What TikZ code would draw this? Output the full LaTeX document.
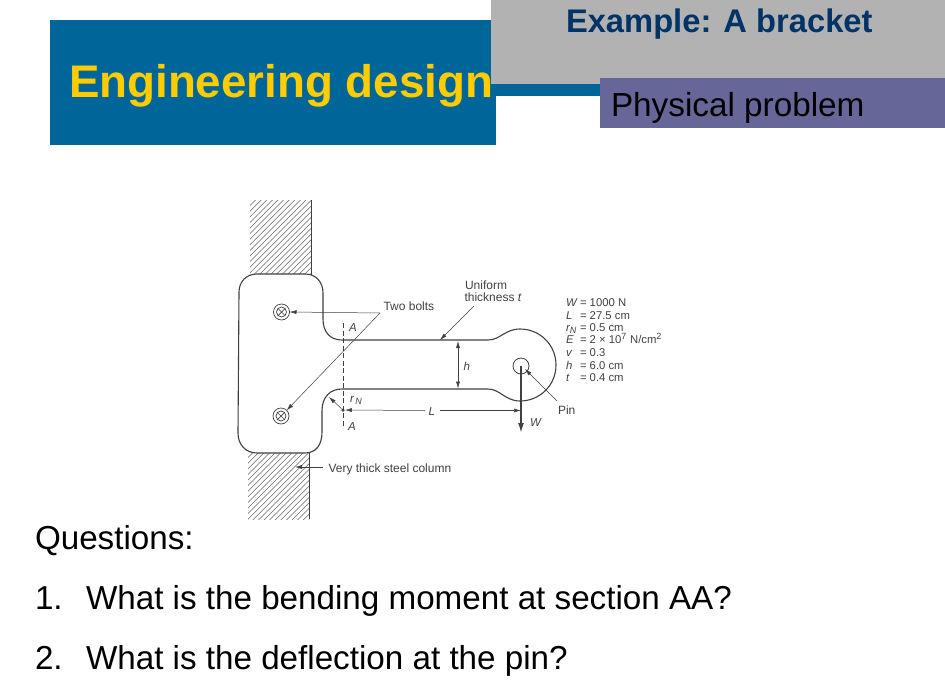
\documentclass[tikz,border=0pt]{standalone}
\usepackage{fontspec}
\setmainfont{Liberation Sans}
\usetikzlibrary{arrows.meta}
\definecolor{hdrblue}{HTML}{006699}
\definecolor{hdryellow}{HTML}{FFCC00}
\definecolor{hdrgrey}{HTML}{B2B2B2}
\definecolor{hdrpurple}{HTML}{666699}
\definecolor{hdrnavy}{HTML}{003366}
\definecolor{ink}{gray}{0.25}
\newcommand{\fs}[1]{\fontsize{#1pt}{#1pt}\selectfont}
\newcommand{\vrow}[2]{\makebox[14pt][l]{\itshape #1}= #2}
\tikzset{
  x=1pt,y=-1pt,
  txt/.style={anchor=base west,inner sep=0,outer sep=0},
  figtxt/.style={txt,text=ink,font=\fs{12}},
  figvar/.style={txt,text=ink,font=\itshape\fs{11.5}},
  valtxt/.style={txt,text=ink,font=\fs{11.3}},
  bodytxt/.style={txt,text=black,font=\fs{33.2}},
  outline/.style={draw=ink,line width=1.1pt},
  thinline/.style={draw=ink,line width=0.5pt},
  leader/.style={thinline,-{Latex[length=7pt,width=4pt]}},
  hatch/.style={draw=ink!80,line width=0.55pt},
  boltout/.style={circle,draw=ink,line width=0.7pt,minimum size=16pt,inner sep=0,outer sep=0},
  boltin/.style={circle,draw=ink,line width=0.7pt,minimum size=10pt,inner sep=0,outer sep=0},
}
\begin{document}
\begin{tikzpicture}
\useasboundingbox (0,0) rectangle (945,696);
% header blocks
\fill[hdrblue] (50,20) rectangle (496,145);
\fill[hdrblue] (491,84) rectangle (600,96);
\fill[hdrgrey] (491,0) rectangle (945,84);
\fill[hdrpurple] (600,78) rectangle (945,128);
\node[txt,text=hdryellow,font=\bfseries\fs{45.7}] (title) at (69,97) {Engineering design};
\node[txt,text=hdrnavy,font=\bfseries\fs{32.7}] (example) at (566,32) {Example: A bracket};
\node[txt,text=black,font=\fs{33.3}] (phys) at (611,116) {Physical problem};
% column hatching
\begin{scope}
\clip (250,200) rectangle (311,275);
\foreach \k in {0,...,30} \draw[hatch] (160+\k*5.6,290) -- (260+\k*5.6,190);
\end{scope}
\begin{scope}
\clip (248,453) rectangle (309,519);
\foreach \k in {0,...,30} \draw[hatch] (170+\k*5.6,530) -- (270+\k*5.6,430);
\end{scope}
\draw[outline,line width=0.8pt] (311,200) -- (311,276);
\draw[outline,line width=0.8pt] (309,453) -- (309,519);
% bracket outline
\draw[outline,fill=white]
  (257,274) -- (305,274)
  .. controls (316,274) and (323,282) .. (323,293)
  -- (323,319)
  .. controls (323,332) and (330,340) .. (342,340)
  -- (488,340)
  .. controls (500,340) and (505,329) .. (520,329)
  .. controls (540,329) and (556,345) .. (556,365)
  .. controls (556,385) and (540,401) .. (520,401)
  .. controls (505,401) and (500,389) .. (488,389)
  -- (342,389)
  .. controls (330,389) and (322,397) .. (322,411)
  -- (322,432)
  .. controls (322,445) and (316,453) .. (305,453)
  -- (257,453)
  .. controls (246,453) and (238,445) .. (238,433)
  -- (239,292)
  .. controls (239,282) and (246,274) .. (257,274) -- cycle;
% hole
\node[circle,draw=ink,line width=0.8pt,minimum size=16pt,inner sep=0,outer sep=0] (hole) at (521,366) {};
\coordinate (holec) at (521,366);
% bolts
\node[boltout] (bolta) at (281.5,312) {};
\node[boltin] (boltai) at (281.5,312) {};
\draw[ink,line width=0.7pt] (boltai.north west) -- (boltai.south east) (boltai.north east) -- (boltai.south west);
\node[boltout] (boltb) at (281,416) {};
\node[boltin] (boltbi) at (281,416) {};
\draw[ink,line width=0.7pt] (boltbi.north west) -- (boltbi.south east) (boltbi.north east) -- (boltbi.south west);
% section line
\coordinate (secT) at (343,323);
\coordinate (secB) at (343,427);
\draw[thinline,dash pattern=on 5pt off 2.5pt] (secT) -- (secB);
\node[figvar] (Atop) at (349,331) {A};
\node[figvar] (Abot) at (348,430) {A};
% two bolts leaders
\coordinate (tb) at (380,313);
\node[figtxt] (twobolts) at (383.5,310) {Two bolts};
\draw[leader] (tb) -- (bolta.east);
\draw[leader] (tb) -- (boltb.north east);
% uniform thickness
\node[figtxt] (unif1) at (465,289.5) {Uniform};
\node[figtxt] (unif2) at (464.5,301.5) {thickness \textit{t}};
\coordinate (utail) at (474,306);
\coordinate (utip) at (440,340);
\draw[leader] (utail) -- (utip);
% h dimension
\coordinate (ht) at (458,341);
\coordinate (hb) at (458,388.5);
\draw[thinline,{Latex[length=7pt,width=4pt]}-{Latex[length=7pt,width=4pt]}] (ht) -- (hb);
\node[figvar] (hlab) at (463.5,370) {h};
% rN and L
\node[circle,fill=ink,inner sep=0,minimum size=3.5pt] (dot) at (343,410) {};
\coordinate (fil) at (329,397);
\draw[leader] (dot) -- (fil);
\node[figvar] (rn) at (350,402) {r\textsubscript{\fs{9}\,N}};
\node[figvar] (Llab) at (428.5,415) {L};
\coordinate (Ll) at (425,410.5);
\coordinate (Lr) at (440,410.5);
\coordinate (Lend) at (521,410.5);
\draw[leader] (Ll) -- (dot);
\draw[leader] (Lr) -- (Lend);
% load W
\draw[ink,line width=1.6pt,-{Latex[length=10pt,width=6pt]}] (holec) -- (521,433);
\node[figvar] (Wlab) at (530,426) {W};
% pin
\node[figtxt] (pin) at (558,414) {Pin};
\coordinate (ptail) at (557,401);
\coordinate (ptip) at (525,369);
\draw[leader] (ptail) -- (ptip);
% column label
\node[figtxt] (col) at (328.5,472) {Very thick steel column};
\coordinate (ctail) at (323,467);
\coordinate (chead) at (295,467);
\draw[leader] (ctail) -- (chead);
% values
\node[valtxt] (v1) at (566,306) {\vrow{W}{1000 N}};
\node[valtxt] (v2) at (566,319) {\vrow{L}{27.5 cm}};
\node[valtxt] (v3) at (566,331) {\vrow{r\textsubscript{\fs{9}N}}{0.5 cm}};
\node[valtxt] (v4) at (566,343) {\vrow{E}{2 × 10\textsuperscript{\fs{9}7} N/cm\textsuperscript{\fs{9}2}}};
\node[valtxt] (v5) at (566,356) {\vrow{v}{0.3}};
\node[valtxt] (v6) at (566,369) {\vrow{h}{6.0 cm}};
\node[valtxt] (v7) at (566,381) {\vrow{t}{0.4 cm}};
% questions
\node[bodytxt] (q0) at (35,549) {Questions:};
\node[bodytxt] (q1n) at (35,609) {1.};
\node[bodytxt] (q1) at (86,609) {What is the bending moment at section AA?};
\node[bodytxt] (q2n) at (35,669) {2.};
\node[bodytxt] (q2) at (86,669) {What is the deflection at the pin?};
\end{tikzpicture}
\end{document}
